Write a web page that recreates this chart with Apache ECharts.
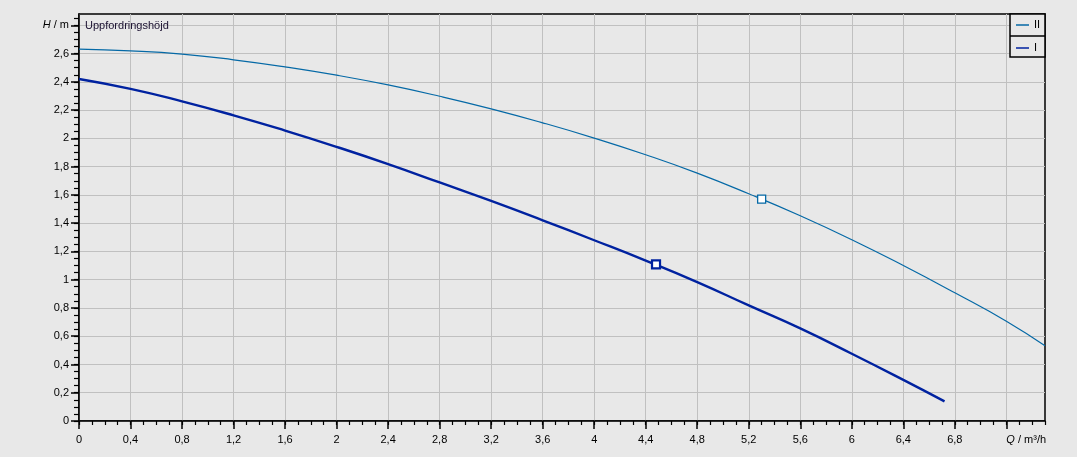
<!DOCTYPE html>
<html>
<head>
<meta charset="utf-8">
<script src="https://cdn.jsdelivr.net/npm/echarts@6/dist/echarts.min.js"></script>
<style>
html,body{margin:0;padding:0;background:#e8e8e8;}
#c{width:1077px;height:457px;}
</style>
</head>
<body>
<div id="c"></div>
<script>
// ---- data ----
var qII = [0, 0.4, 0.8, 1.2, 1.6, 2.0, 2.4, 2.8, 3.2, 3.6, 4.0, 4.4, 4.8, 5.2, 5.6, 6.0, 6.4, 6.8, 7.2, 7.5];
var hII = [2.631, 2.619, 2.596, 2.556, 2.506, 2.447, 2.378, 2.298, 2.209, 2.110, 2.002, 1.884, 1.754, 1.608, 1.452, 1.283, 1.100, 0.907, 0.706, 0.532];
var qI  = [0, 0.4, 0.8, 1.2, 1.6, 2.0, 2.4, 2.8, 3.2, 3.6, 4.0, 4.4, 4.8, 5.2, 5.6, 6.0, 6.4, 6.72];
var hI  = [2.42, 2.35, 2.262, 2.163, 2.055, 1.940, 1.818, 1.688, 1.557, 1.420, 1.279, 1.135, 0.983, 0.818, 0.655, 0.476, 0.291, 0.139];
var opII = [5.30, 1.570];
var opI  = [4.48, 1.108];
var seriesNames = ['II', 'I'];
var xTicks = [0, 0.4, 0.8, 1.2, 1.6, 2, 2.4, 2.8, 3.2, 3.6, 4, 4.4, 4.8, 5.2, 5.6, 6, 6.4, 6.8, 7.2];
var xLabelTicks = [0, 0.4, 0.8, 1.2, 1.6, 2, 2.4, 2.8, 3.2, 3.6, 4, 4.4, 4.8, 5.2, 5.6, 6, 6.4, 6.8];
var yTicks = [0, 0.2, 0.4, 0.6, 0.8, 1, 1.2, 1.4, 1.6, 1.8, 2, 2.2, 2.4, 2.6, 2.8];
var xTitle = 'Q';
var xUnit = ' / m³/h';
var yTitle = 'H';
var yUnit = ' / m';
var chartTitle = 'Uppfordringshöjd';

var xMinor = [];
for (var i = 0; i <= 75; i++) xMinor.push(i / 10);
var yMinor = [];
for (var j = 0; j <= 57; j++) yMinor.push(Math.round(j * 5) / 100);

function fmt(v) { return String(Math.round(v * 100) / 100).replace('.', ','); }

var FONT = 'Arial, "Liberation Sans", sans-serif';
var FS = 11;
var lblStyle = { color: '#000', fontSize: FS, fontFamily: FONT };

function zip(a, b) { return a.map(function (v, k) { return [v, b[k]]; }); }

var chart = echarts.init(document.getElementById('c'));
chart.setOption({
  backgroundColor: '#e8e8e8',
  animation: false,
  textStyle: { fontFamily: FONT },
  title: {
    text: chartTitle, left: 85, top: 20, padding: 0,
    textStyle: { fontSize: FS, fontWeight: 'normal', color: '#1a1030', fontFamily: FONT }
  },
  legend: {
    data: seriesNames,
    orient: 'vertical',
    left: 1016, top: 18, padding: 0,
    itemWidth: 13, itemHeight: 1.5, itemGap: 9,
    icon: 'rect',
    textStyle: { color: '#000', fontSize: FS, lineHeight: 14, fontFamily: FONT },
    z: 10
  },
  graphic: [
    { type: 'rect', z: 5, shape: { x: 1010, y: 14, width: 35, height: 43 },
      style: { fill: '#e8e8e8', stroke: '#000', lineWidth: 1.5 } },
    { type: 'line', z: 6, shape: { x1: 1010, y1: 36, x2: 1045, y2: 36 },
      style: { stroke: '#000', lineWidth: 1.5 } }
  ],
  grid: {
    left: 79, right: 32, top: 14, bottom: 36,
    show: true, backgroundColor: '#e8e8e8', borderColor: '#000', borderWidth: 1.5
  },
  xAxis: [
    {
      type: 'value', min: 0, max: 7.5, interval: 0.4,
      axisLine: { show: true, lineStyle: { color: '#000', width: 1.5 } },
      axisTick: { show: true, length: 8, customValues: xTicks, lineStyle: { color: '#000', width: 1.5 } },
      axisLabel: Object.assign({ margin: 13, customValues: xLabelTicks, formatter: fmt }, lblStyle),
      splitLine: { show: true, lineStyle: { color: '#c0c0c0', width: 1 } }
    },
    {
      type: 'value', min: 0, max: 7.5, position: 'bottom',
      axisLine: { show: false },
      axisTick: { show: true, length: 4, customValues: xMinor, lineStyle: { color: '#000', width: 1.2 } },
      axisLabel: Object.assign({
        margin: 13, customValues: [7.2], align: 'left',
        formatter: function () { return '{i|' + xTitle + '}' + xUnit; },
        rich: { i: { fontStyle: 'italic', fontSize: FS, fontFamily: FONT, color: '#000' } }
      }, lblStyle),
      splitLine: { show: false }
    }
  ],
  yAxis: [
    {
      type: 'value', min: 0, max: 2.88, interval: 0.2,
      axisLine: { show: true, lineStyle: { color: '#000', width: 1.5 } },
      axisTick: { show: true, length: 8, customValues: yTicks, lineStyle: { color: '#000', width: 1.5 } },
      axisLabel: Object.assign({
        margin: 10, customValues: yTicks,
        formatter: function (v) {
          if (Math.abs(v - 2.8) < 1e-6) return '{i|' + yTitle + '}' + yUnit;
          return fmt(v);
        },
        rich: { i: { fontStyle: 'italic', fontSize: FS, fontFamily: FONT, color: '#000' } }
      }, lblStyle),
      splitLine: { show: true, lineStyle: { color: '#c0c0c0', width: 1 } }
    },
    {
      type: 'value', min: 0, max: 2.88, position: 'left',
      axisLine: { show: false },
      axisTick: { show: true, length: 5, customValues: yMinor, lineStyle: { color: '#000', width: 1.2 } },
      axisLabel: { show: false },
      splitLine: { show: false }
    }
  ],
  series: [
    {
      name: 'II', type: 'line', xAxisIndex: 0, yAxisIndex: 0,
      data: zip(qII, hII), smooth: true, showSymbol: false, symbol: 'none',
      lineStyle: { color: '#0569a6', width: 1.2 }, itemStyle: { color: '#0569a6' }, z: 3
    },
    {
      name: 'I', type: 'line', xAxisIndex: 0, yAxisIndex: 0,
      data: zip(qI, hI), smooth: true, showSymbol: false, symbol: 'none',
      lineStyle: { color: '#0022a0', width: 2.4 }, itemStyle: { color: '#0022a0' }, z: 3
    },
    {
      name: 'opII', type: 'scatter', xAxisIndex: 0, yAxisIndex: 0,
      data: [opII], symbol: 'rect', symbolSize: 8,
      itemStyle: { color: '#ffffff', borderColor: '#0569a6', borderWidth: 1.3, opacity: 1 }, z: 4
    },
    {
      name: 'opI', type: 'scatter', xAxisIndex: 0, yAxisIndex: 0,
      data: [opI], symbol: 'rect', symbolSize: 8,
      itemStyle: { color: '#ffffff', borderColor: '#0022a0', borderWidth: 2.2, opacity: 1 }, z: 4
    }
  ]
});
</script>
</body>
</html>
